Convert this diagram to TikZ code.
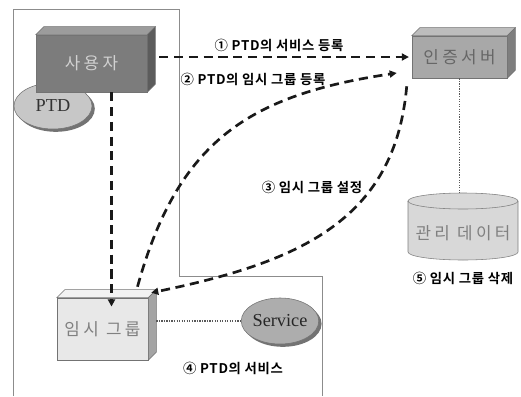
\documentclass[tikz,border=0pt]{standalone}
\usepackage{fontspec}
\setmainfont{Noto Sans CJK KR}[BoldFont={Noto Sans CJK KR Bold}]
\newfontfamily\boxfont{Noto Sans CJK KR}[LetterSpace=20]
\newfontfamily\lblfont{Noto Sans CJK KR Bold}[LetterSpace=5]
\newfontfamily\ellfont{Liberation Serif}
\usetikzlibrary{shapes.geometric,shadows,arrows.meta}

\definecolor{userfront}{HTML}{7C7C7C}
\definecolor{usertop}{HTML}{9C9C9C}
\definecolor{userside}{HTML}{5C5C5C}
\definecolor{authfront}{HTML}{A8A8A8}
\definecolor{authtop}{HTML}{BDBDBD}
\definecolor{authside}{HTML}{7E7E7E}
\definecolor{groupfront}{HTML}{E8E8E8}
\definecolor{grouptop}{HTML}{F2F2F2}
\definecolor{groupside}{HTML}{A4A4A4}
\definecolor{dbfill}{HTML}{D8D8D8}

\tikzset{
  cube/.style={draw=black!55, inner sep=0pt, font=\boxfont\fontsize{12}{14}\selectfont},
  bubble/.style={ellipse, draw=black!55, inner sep=0pt,
    font=\ellfont\fontsize{13}{15}\selectfont,
    drop shadow={shadow xshift=2pt, shadow yshift=-2pt, fill=black!55, opacity=1}},
  flow/.style={draw=black!90, line width=1.9pt, dash pattern=on 6.5pt off 4pt,
    -{Triangle[length=5pt,width=5pt]}},
  link/.style={draw=black!65, line width=0.9pt, dash pattern=on 0.9pt off 0.9pt},
  lbl/.style={font=\lblfont\fontsize{9.5}{11}\selectfont},
  frame/.style={draw=black!45, line width=0.6pt}
}

% top and right faces of a box node: node, top colour, side colour
\newcommand\boxsides[3]{%
  \filldraw[draw=black!55, fill=#2] (#1.north west) -- ++(8,-8)
    -- ([shift={(8,-8)}]#1.north east) -- (#1.north east) -- cycle;
  \filldraw[draw=black!55, fill=#3] (#1.north east) -- ([shift={(8,-8)}]#1.north east)
    -- ([shift={(8,-8)}]#1.south east) -- (#1.south east) -- cycle;
}

\begin{document}
\begin{tikzpicture}[x=0.025cm, y=-0.025cm]
  \useasboundingbox (0,0) rectangle (521,396);

  % frame round the user side
  \draw[frame] (13,396) -- (13,9) -- (179,9) -- (179,276) -- (322,276) -- (322,396);

  % nodes
  \node[bubble, fill=black!22, text=black!80, minimum width=1.95cm, minimum height=1.15cm] (ptd) at (53,106) {PTD};
  \node[cube, fill=userfront, text=black!18, minimum width=2.775cm, minimum height=1.425cm] (user) at (91.5,63.5) {사용자};
  \boxsides{user}{usertop}{userside}

  \node[cube, fill=authfront, text=black!60, minimum width=2.375cm, minimum height=1.05cm] (auth) at (459.5,57) {인증서버};
  \boxsides{auth}{authtop}{authside}

  \node[cube, fill=groupfront, text=black!50, minimum width=2.275cm, minimum height=1.55cm] (group) at (102.5,329) {임시 그룹};
  \boxsides{group}{grouptop}{groupside}

  \node[bubble, fill=black!32, text=black!85, minimum width=1.9cm, minimum height=1.15cm] (svc) at (280,321) {Service};

  % database cylinder
  \filldraw[draw=black!50, fill=dbfill] (408,201) -- (408,252)
    arc[start angle=180, end angle=360, x radius=1.375cm, y radius=0.2cm] -- (518,201)
    arc[start angle=0, end angle=180, x radius=1.375cm, y radius=0.2cm] -- cycle;
  \draw[black!50] (408,201) arc[start angle=180, end angle=360, x radius=1.375cm, y radius=0.2cm];
  \node[font=\boxfont\fontsize{12}{14}\selectfont, text=black!50] (db) at (463,233) {관리 데이터};
  \coordinate (dbtop) at (463,193);

  % connectors
  \draw[link] (auth.south) -- (auth.south |- dbtop);
  \draw[link] ([xshift=0.2cm]group.east |- svc.west) -- (svc.west);

  \draw[flow, shorten >=2pt] ([xshift=0.3cm]user.east |- auth.west) -- (auth.west);
  \draw[flow, shorten >=-0.22cm] ([xshift=0.5cm]user.south) -- ([xshift=0.5cm]user.south |- group.north);
  \draw[flow] ([shift={(35,-11)}]group.north) .. controls (178,140) and (250,95) .. ([shift={(-15,16)}]auth.west);
  \draw[flow] ([shift={(-5,8)}]auth.south west) .. controls (395,220) and (300,262) .. ([shift={(3,-5)}]group.north east);

  % labels
  \node[lbl] (l1) at (279,45) {① PTD의 서비스 등록};
  \node[lbl] (l2) at (253,79) {② PTD의 임시 그룹 등록};
  \node[lbl] (l3) at (312,187) {③ 임시 그룹 설정};
  \node[lbl] (l4) at (233,368) {④ PTD의 서비스};
  \node[lbl] (l5) at (463,278) {⑤ 임시 그룹 삭제};
\end{tikzpicture}
\end{document}
